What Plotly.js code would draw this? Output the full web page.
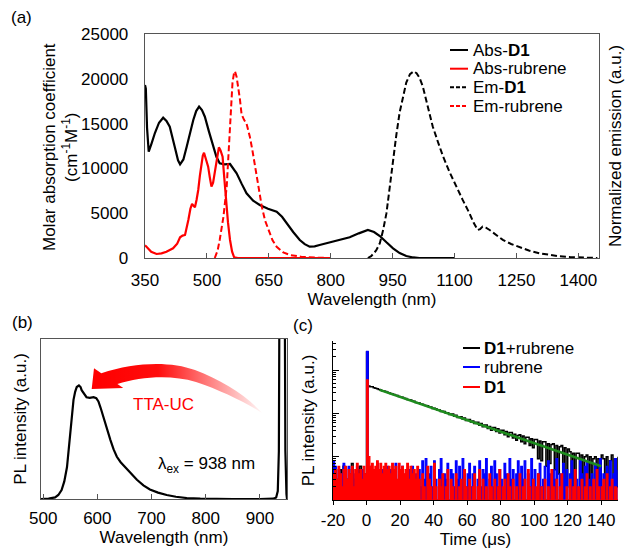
<!DOCTYPE html>
<html>
<head>
<meta charset="utf-8">
<script src="https://cdn.plot.ly/plotly-3.0.1.min.js"></script>
<style>html,body{margin:0;padding:0;background:#fff;}#chart{width:627px;height:551px;}</style>
</head>
<body>
<div id="chart"></div>
<script>
// ---------- Panel (a) data ----------
const absD1Wl = [350,352,355,359,366,374,384,394,402,410,422,430,435,443,451,459,467,474,481,488,495,505,515,523,531,543,556,564,572,584,596,612,628,648,669,682,693,709,725,737,749,761,773,790,805,825,846,868,890,905,919,935,951,967,983,1000,1015,1050,1100];
const absD1Val = [19300,18900,14500,11860,12800,13950,15100,15660,15300,14650,12420,10900,10460,11000,12420,14000,15400,16400,16890,16500,15770,14100,12420,11300,10570,10450,10490,10000,9450,8300,7220,6400,5915,5500,5170,4600,3870,2900,2010,1550,1260,1300,1450,1650,1820,2050,2310,2750,3125,2900,2455,1750,1080,550,220,60,0,0,0];

const absRubWl = [350,352,365,378,390,402,418,428,435,441,447,451,455,460,464,468,471,475,479,483,487,490,493,496,499,503,507,511,515,519,524,529,533,538,542,546,551,556,561,566,575,600,700,800];
const absRubVal = [1400,1340,700,450,520,700,1080,1600,2310,2500,2570,3300,4240,5500,6030,5800,5660,6500,7590,9200,10570,11400,11750,11300,10600,10190,9000,7960,8400,9450,11200,12350,12000,11300,9000,6470,4000,2010,700,80,0,0,0,0];

const emD1Wl = [890,898,910,919,927,935,943,951,959,967,975,983,992,1001,1008,1015,1023,1031,1039,1047,1060,1072,1088,1104,1120,1136,1146,1156,1162,1168,1176,1185,1200,1217,1237,1257,1280,1306,1330,1354,1380,1402,1425,1446];
const emD1Val = [0,0.01,0.04,0.079,0.15,0.24,0.38,0.527,0.66,0.78,0.87,0.94,0.985,1.0,0.99,0.966,0.92,0.85,0.78,0.706,0.62,0.545,0.46,0.383,0.31,0.24,0.19,0.15,0.155,0.168,0.162,0.15,0.125,0.097,0.075,0.058,0.04,0.025,0.015,0.009,0.005,0.003,0.001,0];

const emRubWl = [519,526,531,540,548,556,562,566,568,572,576,580,584,590,596,600,604,610,617,625,633,641,649,659,669,685,701,730,765,800];
const emRubVal = [0,0.04,0.097,0.22,0.383,0.67,0.94,0.995,1.0,0.97,0.92,0.85,0.77,0.74,0.72,0.69,0.65,0.58,0.49,0.38,0.276,0.2,0.15,0.095,0.06,0.03,0.016,0.006,0.002,0];

const legendANames = ['Abs-<b>D1</b>', 'Abs-rubrene', 'Em-<b>D1</b>', 'Em-rubrene'];

// ---------- Panel (b) data ----------
const ucWl = [496,500,510,522,528,534,539,544,547,550,553,556,559,562,566,569,571,575,580,586,593,598,602,606,611,617,624,630,636,643,651,662,673,685,697,712,728,745,765,790,815,850,900,925,930,933,935,937,939,941,943,945,947,949,950];
const ucVal = [0,0,0.002,0.01,0.025,0.056,0.11,0.2,0.3,0.41,0.52,0.62,0.67,0.70,0.71,0.70,0.68,0.66,0.636,0.632,0.636,0.63,0.61,0.57,0.51,0.44,0.37,0.31,0.264,0.23,0.2,0.16,0.12,0.085,0.06,0.04,0.025,0.014,0.006,0.002,0,0,0,0.002,0.01,0.05,0.3,2,4,3,4,2,0.3,0.03,0];

// ---------- Panel (c) data (time starts at -20 us, 1 us per sample) ----------
const decayT0 = -20;
const decayDt = 1;
const decayD1Rub = [2,4,1,3,5,2,6,1,3,2,4,7,1,3,5,2,6,3,1,4,
  2600,
  430,412,409,390,380, 370,356,348,333,326, 318,305,300,286,280, 272,261,258,244,240,
  235,224,220,209,206, 202,192,190,178,176, 174,164,163,153,152, 150,140,140,130,131,
  128,119,120,110,112, 110,101,103,94,96, 96,86,90,80,84, 83,74,78,68,72,
  72,63,67,58,62, 62,53,58,49,54, 54,45,50,41,47, 47,38,44,35,41,
  41,32,38,29,36, 36,27,33,24,31, 32,22,30,20,28, 28,18,26,16,25,
  25,9,23,8,22, 22,6,20,7,19, 20,5,18,4,17, 18,3,16,2,15,
  13,2,12,1,12, 12,1,11,2,10, 11,1,10,1,9, 10,2,9,1,11,
  9,1,10,2,8, 11,1,9,2,10];
const decayRub = [8,6,2,5,1,4,7,2,3,6,1,5,2,4,6,3,1,5,2,4,
  2700,
  4,6,3,5,2,7,3,1,5,4,2,6,3,5,1,4,7,2,3,5,6,2,4,1,5,3,6,2,4,3,
  5,2,8,3,9,1,4,6,2,8,3,1,5,9,2,4,3,7,1,5,4,2,8,3,6,1,9,3,2,4,
  7,2,4,6,1,3,8,2,5,4,9,1,3,6,2,8,4,2,5,3,1,7,4,2,9,3,5,1,4,8,
  2,6,3,8,1,4,2,9,3,5,1,4,7,2,3,6,1,8,4,2,5,3,9,1,4,2,7,3,5,1,
  4,8,2,5,3,1,9,4,2,6,8,3,1,4,2,7,5,3,9,2,4,1,6,3,8,2,4,9,1,5];
const decayD1 = [4,5,3,6,4,2,5,6,3,5,4,6,2,5,7,4,5,3,6,4,
  590,
  10,6,7,5,6,8,5,7,4,6,7,5,6,4,7,5,6,3,7,5,6,4,5,7,3,6,4,5,3,6,
  3,1,4,2,1,6,3,2,1,7,2,1,3,2,4,1,2,5,1,3,2,1,4,1,2,3,1,5,2,1,
  3,1,2,4,1,2,5,1,3,1,2,1,4,2,1,3,1,2,5,1,2,3,1,4,2,1,3,1,2,1,
  4,1,2,3,1,5,2,1,3,1,2,4,1,2,1,3,1,2,1,5,2,1,3,1,2,4,1,1,2,1,
  3,1,2,5,1,2,1,3,1,2,4,1,2,1,3,1,5,2,1,2,3,1,4,1,2,3,1,2,1,2];
const fitT = [7.8, 140];
const fitVal = [347, 6.0];

const legendCNames = ['<b>D1</b>+rubrene', 'rubrene', '<b>D1</b>'];

// tick labels
const aTickVals = [350,500,650,800,950,1100,1250,1400];
const bTickVals = [500,600,700,800,900];
const cTickVals = [-20,0,20,40,60,80,100,120,140];
const cTickText = ['-20','0','20','40','60','80','100','120','140'];

// ---------- layout helpers ----------
const W = 627, H = 551;
const px = v => v / W;
const py = v => 1 - v / H;
const FONT = 'Liberation Sans, Arial, Helvetica, sans-serif';
const AX = '#555555';
const RED = '#ff0000', BLUE = '#0000ff', BLACK = '#000000';

const traces = [
  {x: absD1Wl, y: absD1Val, type: 'scatter', mode: 'lines', name: legendANames[0], showlegend: false, line: {color: BLACK, width: 2.2}, xaxis: 'x', yaxis: 'y'},
  {x: absRubWl, y: absRubVal, type: 'scatter', mode: 'lines', name: legendANames[1], showlegend: false, line: {color: RED, width: 2.2}, xaxis: 'x', yaxis: 'y'},
  {x: emD1Wl, y: emD1Val, type: 'scatter', mode: 'lines', name: legendANames[2], showlegend: false, line: {color: BLACK, width: 2, dash: '6px,3px'}, xaxis: 'x', yaxis: 'y2'},
  {x: emRubWl, y: emRubVal, type: 'scatter', mode: 'lines', name: legendANames[3], showlegend: false, line: {color: RED, width: 2, dash: '6px,3px'}, xaxis: 'x', yaxis: 'y2'},
  {x: ucWl, y: ucVal, type: 'scatter', mode: 'lines', name: 'UC', showlegend: false, line: {color: BLACK, width: 2.2}, xaxis: 'x2', yaxis: 'y3'},
  {y: decayD1Rub, x0: decayT0, dx: decayDt, type: 'scatter', mode: 'lines', name: legendCNames[0], showlegend: false, line: {color: BLACK, width: 1.5, shape: 'hv'}, xaxis: 'x3', yaxis: 'y4'},
  {y: decayRub, x0: decayT0, dx: decayDt, type: 'scatter', mode: 'lines', name: legendCNames[1], showlegend: false, fill: 'tozeroy', fillcolor: BLUE, line: {color: BLUE, width: 1.2, shape: 'hv'}, xaxis: 'x3', yaxis: 'y4'},
  {y: decayD1, x0: decayT0, dx: decayDt, type: 'scatter', mode: 'lines', name: legendCNames[2], showlegend: false, fill: 'tozeroy', fillcolor: RED, line: {color: RED, width: 1.2, shape: 'hv'}, xaxis: 'x3', yaxis: 'y4'},
  {x: fitT, y: fitVal, type: 'scatter', mode: 'lines', name: 'fit', showlegend: false, line: {color: '#1e8c1e', width: 2.5}, xaxis: 'x3', yaxis: 'y4'}
];

const tf = {family: FONT, size: 17, color: '#000'};
const arrowSvg = '<svg xmlns="http://www.w3.org/2000/svg" width="190" height="80" viewBox="80 355 190 80">' +
  '<defs><linearGradient id="g" gradientUnits="userSpaceOnUse" x1="100" y1="0" x2="266" y2="0">' +
  '<stop offset="0" stop-color="#ff0000" stop-opacity="1"/><stop offset="0.35" stop-color="#ff0000" stop-opacity="0.95"/>' +
  '<stop offset="1" stop-color="#ff0000" stop-opacity="0"/></linearGradient></defs>' +
  '<path d="M91.7,389 L94,368.3 L101.3,373.2 C135,362 170,361 195,370 C222,380 247,396 262,413 C245,402 220,390 196,382 C170,374 140,377 117.4,384 L123.3,388 Z" fill="url(#g)"/></svg>';

// manual legends (legend glyph positions in page pixels)
const legA = {x0: 450, x1: 468, tx: 471, ys: [50, 68.7, 87.3, 106]};
const legAStyles = [{color: BLACK, dash: 'solid'}, {color: RED, dash: 'solid'}, {color: BLACK, dash: '4px,2px'}, {color: RED, dash: '4px,2px'}];
const legC = {x0: 463, x1: 480, tx: 482, ys: [348, 367, 387]};
const legCStyles = [{color: BLACK, dash: 'solid'}, {color: BLUE, dash: 'solid'}, {color: RED, dash: 'solid'}];

const shapes = [];
const annotations = [
  {text: '(a)', x: px(21), y: py(17), xanchor: 'center', yanchor: 'middle', xref: 'paper', yref: 'paper', showarrow: false, font: tf},
  {text: '(b)', x: px(22), y: py(322), xanchor: 'center', yanchor: 'middle', xref: 'paper', yref: 'paper', showarrow: false, font: tf},
  {text: '(c)', x: px(303), y: py(325), xanchor: 'center', yanchor: 'middle', xref: 'paper', yref: 'paper', showarrow: false, font: tf},
  {text: 'Molar absorption coefficient<br>(cm<sup>-1</sup>M<sup>-1</sup>)', textangle: -90, x: px(61), y: py(147), xanchor: 'center', yanchor: 'middle', xref: 'paper', yref: 'paper', showarrow: false, font: tf},
  {text: 'TTA-UC', x: px(163), y: py(404), xanchor: 'center', yanchor: 'middle', xref: 'paper', yref: 'paper', showarrow: false, font: {family: FONT, size: 17, color: RED}},
  {text: 'λ<sub>ex</sub> = 938 nm', x: px(206), y: py(465), xanchor: 'center', yanchor: 'middle', xref: 'paper', yref: 'paper', showarrow: false, font: tf}
];
legendANames.forEach((nm, i) => {
  shapes.push({type: 'line', xref: 'paper', yref: 'paper', x0: px(legA.x0), x1: px(legA.x1), y0: py(legA.ys[i]), y1: py(legA.ys[i]),
    line: {color: legAStyles[i].color, width: 2, dash: legAStyles[i].dash}});
  annotations.push({text: nm, x: px(legA.tx), y: py(legA.ys[i]), xanchor: 'left', yanchor: 'middle', xref: 'paper', yref: 'paper', showarrow: false, font: tf});
});
legendCNames.forEach((nm, i) => {
  shapes.push({type: 'line', xref: 'paper', yref: 'paper', x0: px(legC.x0), x1: px(legC.x1), y0: py(legC.ys[i]), y1: py(legC.ys[i]),
    line: {color: legCStyles[i].color, width: 2, dash: legCStyles[i].dash}});
  annotations.push({text: nm, x: px(legC.tx), y: py(legC.ys[i]), xanchor: 'left', yanchor: 'middle', xref: 'paper', yref: 'paper', showarrow: false, font: tf});
});

const layout = {
  width: W, height: H,
  margin: {l: 0, r: 0, t: 0, b: 0},
  paper_bgcolor: '#fff', plot_bgcolor: 'rgba(0,0,0,0)',
  font: {family: FONT, size: 17, color: '#000'},
  hovermode: false,
  showlegend: false,
  xaxis: {domain: [px(145), px(599)], range: [350, 1450], tickmode: 'array', tickvals: aTickVals,
    ticks: 'inside', ticklen: 5, tickcolor: AX, showline: true, mirror: true, linecolor: AX, linewidth: 1.3,
    showgrid: false, zeroline: false, tickfont: tf, anchor: 'y', ticklabelstandoff: 6,
    title: {text: 'Wavelength (nm)', font: tf, standoff: 0}},
  yaxis: {domain: [py(258), py(34)], range: [0, 25000], dtick: 5000, tick0: 0, tickformat: 'd',
    ticks: '', showline: true, mirror: true, linecolor: AX, linewidth: 1.3, ticklabelstandoff: 12,
    showgrid: false, zeroline: false, tickfont: tf, anchor: 'x'},
  yaxis2: {overlaying: 'y', side: 'right', range: [0, 1.2], anchor: 'x', showticklabels: false, ticks: '',
    showline: false, showgrid: false, zeroline: false,
    title: {text: 'Normalized emission (a.u.)', font: tf, standoff: 10}},
  xaxis2: {domain: [px(41), px(287)], range: [496, 950], tickmode: 'array', tickvals: bTickVals,
    ticks: 'inside', ticklen: 5, tickcolor: AX, showline: true, mirror: true, linecolor: AX, linewidth: 1.3,
    showgrid: false, zeroline: false, tickfont: tf, anchor: 'y3', ticklabelstandoff: 3,
    title: {text: 'Wavelength (nm)', font: tf, standoff: 2}},
  yaxis3: {domain: [py(499), py(339)], range: [0, 1], showticklabels: false, ticks: '',
    showline: true, mirror: true, linecolor: AX, linewidth: 1.3, showgrid: false, zeroline: false, anchor: 'x2',
    title: {text: 'PL intensity (a.u.)', font: tf, standoff: 8}},
  xaxis3: {domain: [px(333), px(618)], range: [-20, 150], tickmode: 'array', tickvals: cTickVals, ticktext: cTickText,
    ticks: 'outside', ticklen: 4, tickcolor: '#000', showline: true, mirror: false, linecolor: '#000', linewidth: 1.3,
    showgrid: false, zeroline: false, tickfont: tf, anchor: 'y4',
    title: {text: 'Time (μs)', font: tf, standoff: 2}},
  yaxis4: {type: 'log', domain: [py(500), py(341)], range: [0, 3.67], dtick: 1, showticklabels: false,
    ticks: 'inside', ticklen: 6, tickcolor: '#000', minor: {ticks: 'inside', ticklen: 3, tickcolor: '#000', showgrid: false},
    showline: true, mirror: false, linecolor: '#000', linewidth: 1.3, showgrid: false, zeroline: false, anchor: 'x3',
    title: {text: 'PL intensity (a.u.)', font: tf, standoff: 12}},
  shapes: shapes,
  annotations: annotations,
  images: [
    {source: 'data:image/svg+xml;charset=utf-8,' + encodeURIComponent(arrowSvg), xref: 'paper', yref: 'paper',
      x: px(80), y: py(355), sizex: 190 / W, sizey: 80 / H, xanchor: 'left', yanchor: 'top', sizing: 'stretch', layer: 'above'}
  ]
};

Plotly.newPlot('chart', traces, layout, {staticPlot: true, displayModeBar: false});
</script>
</body>
</html>
